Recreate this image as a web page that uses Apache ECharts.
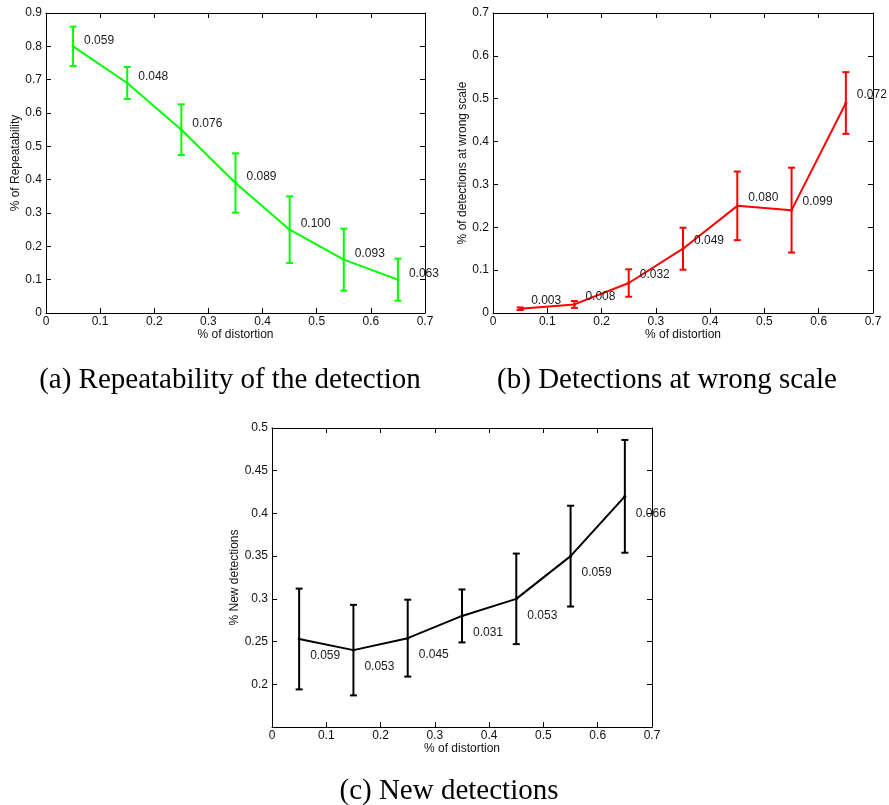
<!DOCTYPE html>
<html>
<head>
<meta charset="utf-8">
<script src="https://cdn.jsdelivr.net/npm/echarts@6/dist/echarts.min.js"></script>
<style>
  html, body { margin: 0; padding: 0; background: #ffffff; }
  #chart { width: 889px; height: 805px; }
</style>
</head>
<body>
<div id="chart"></div>
<script>
// Distortion levels shared by all three plots
const distortion = [0.05, 0.15, 0.25, 0.35, 0.45, 0.55, 0.65];

// (a) repeatability: mean and standard deviation
const repeatability = [0.80, 0.69, 0.55, 0.39, 0.25, 0.16, 0.10];
const repeatabilityStd = [0.059, 0.048, 0.076, 0.089, 0.100, 0.093, 0.063];

// (b) detections at the wrong scale
const wrongScale = [0.01, 0.02, 0.07, 0.15, 0.25, 0.24, 0.49];
const wrongScaleStd = [0.003, 0.008, 0.032, 0.049, 0.080, 0.099, 0.072];

// (c) new detections
const newDetections = [0.253, 0.24, 0.254, 0.28, 0.30, 0.35, 0.42];
const newDetectionsStd = [0.059, 0.053, 0.045, 0.031, 0.053, 0.059, 0.066];

// Axis ranges
const xRange = [0, 0.7, 0.1];
const yRangeA = [0, 0.9, 0.1];
const yRangeB = [0, 0.7, 0.1];
const yRangeC = [0.15, 0.5, 0.05];

// Captions
const captions = [
  '(a) Repeatability of the detection',
  '(b) Detections at wrong scale',
  '(c) New detections'
];
const xTitle = '% of distortion';
const yTitles = ['% of Repeatability', '% of detections at wrong scale', '% New detections'];

const SANS = '"Liberation Sans", Arial, Helvetica, sans-serif';
const SERIF = '"Liberation Serif", "Times New Roman", serif';

const panels = [
  { grid: { left: 46, top: 13, width: 379, height: 300 }, y: yRangeA, mean: repeatability, std: repeatabilityStd,
    color: '#00ff00', dx: 11, dy: -6, nameGap: 24, hideMin: false },
  { grid: { left: 493, top: 13, width: 380, height: 300 }, y: yRangeB, mean: wrongScale, std: wrongScaleStd,
    color: '#ff0000', dx: 11, dy: -8, nameGap: 23, hideMin: false },
  { grid: { left: 272, top: 428, width: 380, height: 299 }, y: yRangeC, mean: newDetections, std: newDetectionsStd,
    color: '#000000', dx: 11, dy: 17, nameGap: 31, hideMin: true }
];

const axisLine = { show: true, onZero: false, lineStyle: { color: '#000', width: 1 } };
const tick = { show: true, inside: true, length: 5, lineStyle: { color: '#000', width: 1 } };
const tickLabel = { color: '#111', fontSize: 12, fontFamily: SANS };

// Vertical bar of +/- one standard deviation with caps, plus the value text
function errorBars(color, dx, dy) {
  return function (params, api) {
    const x = api.value(0), y = api.value(1), e = api.value(2);
    const top = api.coord([x, y + e]);
    const bot = api.coord([x, y - e]);
    const mid = api.coord([x, y]);
    const half = 3.5;
    const st = { stroke: color, lineWidth: 2 };
    return {
      type: 'group',
      children: [
        { type: 'line', shape: { x1: top[0], y1: top[1], x2: bot[0], y2: bot[1] }, style: st },
        { type: 'line', shape: { x1: top[0] - half, y1: top[1], x2: top[0] + half, y2: top[1] }, style: st },
        { type: 'line', shape: { x1: bot[0] - half, y1: bot[1], x2: bot[0] + half, y2: bot[1] }, style: st },
        { type: 'text', x: mid[0] + dx, y: mid[1] + dy,
          style: { text: e.toFixed(3), fill: '#1a1a1a', font: '12px ' + SANS, align: 'left', verticalAlign: 'middle' } }
      ]
    };
  };
}

const grids = [], xAxes = [], yAxes = [], series = [];
panels.forEach(function (p, i) {
  grids.push(Object.assign({ containLabel: false }, p.grid));
  const xBase = { type: 'value', gridIndex: i, min: xRange[0], max: xRange[1], interval: xRange[2],
    axisLine: axisLine, axisTick: tick, splitLine: { show: false } };
  xAxes.push(Object.assign({}, xBase, {
    position: 'bottom', name: xTitle, nameLocation: 'middle', nameGap: 15,
    nameTextStyle: { color: '#111', fontSize: 12, fontFamily: SANS },
    axisLabel: Object.assign({ margin: 3 }, tickLabel)
  }));
  xAxes.push(Object.assign({}, xBase, { position: 'top', axisLabel: { show: false } }));
  const yBase = { type: 'value', gridIndex: i, min: p.y[0], max: p.y[1], interval: p.y[2],
    axisLine: axisLine, axisTick: tick, splitLine: { show: false } };
  const hideMin = p.hideMin, yMin = p.y[0];
  yAxes.push(Object.assign({}, yBase, {
    position: 'left', name: yTitles[i], nameLocation: 'middle', nameGap: p.nameGap,
    nameTextStyle: { color: '#111', fontSize: 12, fontFamily: SANS },
    axisLabel: Object.assign({ margin: 4, formatter: function (v) {
      if (hideMin && Math.abs(v - yMin) < 1e-9) return '';
      return String(Math.round(v * 1000) / 1000);
    } }, tickLabel)
  }));
  yAxes.push(Object.assign({}, yBase, { position: 'right', axisLabel: { show: false } }));

  const pts = distortion.map(function (x, k) { return [x, p.mean[k]]; });
  const bars = distortion.map(function (x, k) { return [x, p.mean[k], p.std[k]]; });
  series.push({
    type: 'line', xAxisIndex: 2 * i, yAxisIndex: 2 * i, data: pts,
    symbol: 'circle', symbolSize: 3, showSymbol: true,
    lineStyle: { color: p.color, width: 2 }, itemStyle: { color: p.color },
    silent: true, z: 3
  });
  series.push({
    type: 'custom', xAxisIndex: 2 * i, yAxisIndex: 2 * i, data: bars,
    renderItem: errorBars(p.color, p.dx, p.dy), silent: true, z: 4, clip: false
  });
});

const chart = echarts.init(document.getElementById('chart'), null, { renderer: 'canvas' });
chart.setOption({
  backgroundColor: '#ffffff',
  animation: false,
  grid: grids,
  xAxis: xAxes,
  yAxis: yAxes,
  series: series,
  graphic: [
    { type: 'text', x: 230, y: 380, style: { text: captions[0], font: '29px ' + SERIF, fill: '#000', align: 'center', verticalAlign: 'middle' } },
    { type: 'text', x: 667, y: 380, style: { text: captions[1], font: '29px ' + SERIF, fill: '#000', align: 'center', verticalAlign: 'middle' } },
    { type: 'text', x: 449, y: 791, style: { text: captions[2], font: '29px ' + SERIF, fill: '#000', align: 'center', verticalAlign: 'middle' } }
  ]
});
</script>
</body>
</html>
